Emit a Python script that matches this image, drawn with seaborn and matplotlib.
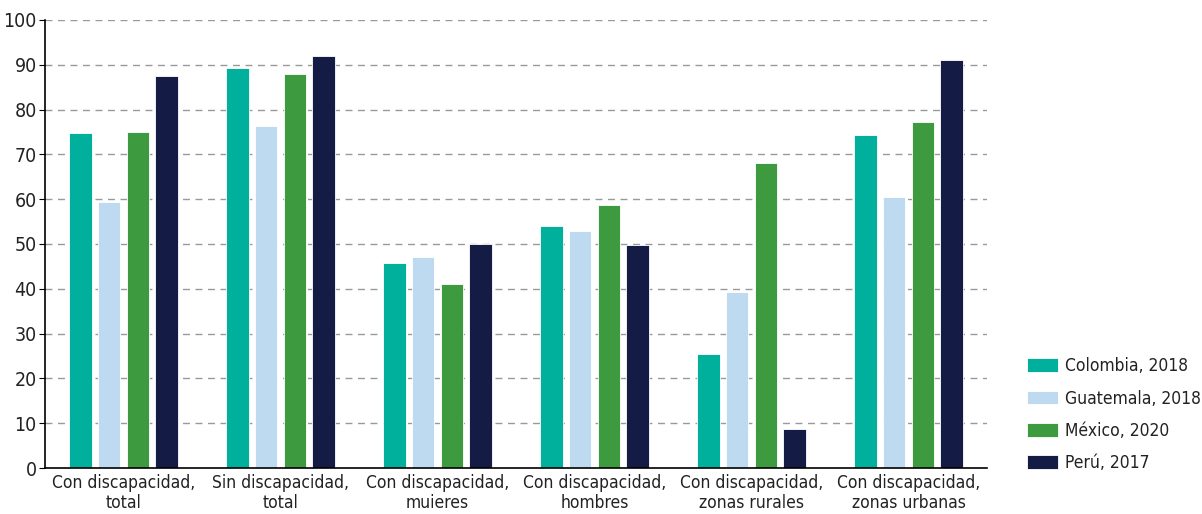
import matplotlib
matplotlib.use("Agg")
import matplotlib.pyplot as plt
import numpy as np
import pandas as pd
import seaborn as sns

# Data
categories = ["Con discapacidad,\ntotal", "Sin discapacidad,\ntotal", "Con discapacidad,\nmuieres",
              "Con discapacidad,\nhombres", "Con discapacidad,\nzonas rurales", "Con discapacidad,\nzonas urbanas"]
series = ["Colombia, 2018", "Guatemala, 2018", "México, 2020", "Perú, 2017"]
colombia = [74.8, 89.3, 45.8, 54.0, 25.5, 74.3]
guatemala = [59.4, 76.3, 47.0, 52.9, 39.3, 60.6]
mexico = [75.1, 87.9, 41.1, 58.8, 68.1, 77.2]
peru = [87.4, 92.0, 50.1, 49.8, 8.8, 91.1]
colors = ["#00B09D", "#BDDAF0", "#3D9A3E", "#141C46"]
yticks = list(range(0, 101, 10))

df = pd.DataFrame({"cat": categories * 4,
                   "serie": np.repeat(series, len(categories)),
                   "value": colombia + guatemala + mexico + peru})

sns.set_style("white")
plt.rcParams["font.family"] = ["DejaVu Sans"]
plt.rcParams["font.stretch"] = "condensed"
plt.rcParams["text.color"] = "#222222"

fig = plt.figure(figsize=(12.02, 5.14), dpi=100)
ax = fig.add_axes([45/1202, 1 - 468/514, 942/1202, 448/514])

sns.barplot(data=df, x="cat", y="value", hue="serie", palette=colors, saturation=1,
            width=0.73, gap=0.23, ax=ax, edgecolor="white", linewidth=0.6,
            legend=True)

ax.set_ylim(0, 100)
ax.set_xlim(-0.5, len(categories) - 0.5)
ax.set_yticks(yticks)
ax.set_yticklabels([str(v) for v in yticks], fontsize=14, color="#222222")
ax.set_xlabel("")
ax.set_ylabel("")
ax.tick_params(axis="x", which="major", length=0, labelsize=12.5, labelcolor="#222222", pad=4)
ax.set_xticks(np.arange(0.5, len(categories) - 0.5 + 0.01, 1), minor=True)
ax.tick_params(axis="x", which="minor", length=5, direction="out", color="black")
ax.tick_params(axis="y", length=4, direction="out", color="black", pad=2, left=True)

for v in yticks[1:]:
    ax.axhline(v, color="#999999", linestyle=(0, (5, 4)), linewidth=1, zorder=0)
ax.set_axisbelow(True)

sns.despine(ax=ax)
for s in ["left", "bottom"]:
    ax.spines[s].set_color("black")
    ax.spines[s].set_linewidth(1.2)

handles, labels = ax.get_legend_handles_labels()
ax.get_legend().remove()
fig.legend(handles, labels, loc="lower left", bbox_to_anchor=(1027/1202, 42/514),
           frameon=False, fontsize=12.5, handlelength=1.8, handleheight=0.85,
           labelspacing=0.82, handletextpad=0.4, borderaxespad=0, borderpad=0)

fig.savefig("out.png", dpi=100)
